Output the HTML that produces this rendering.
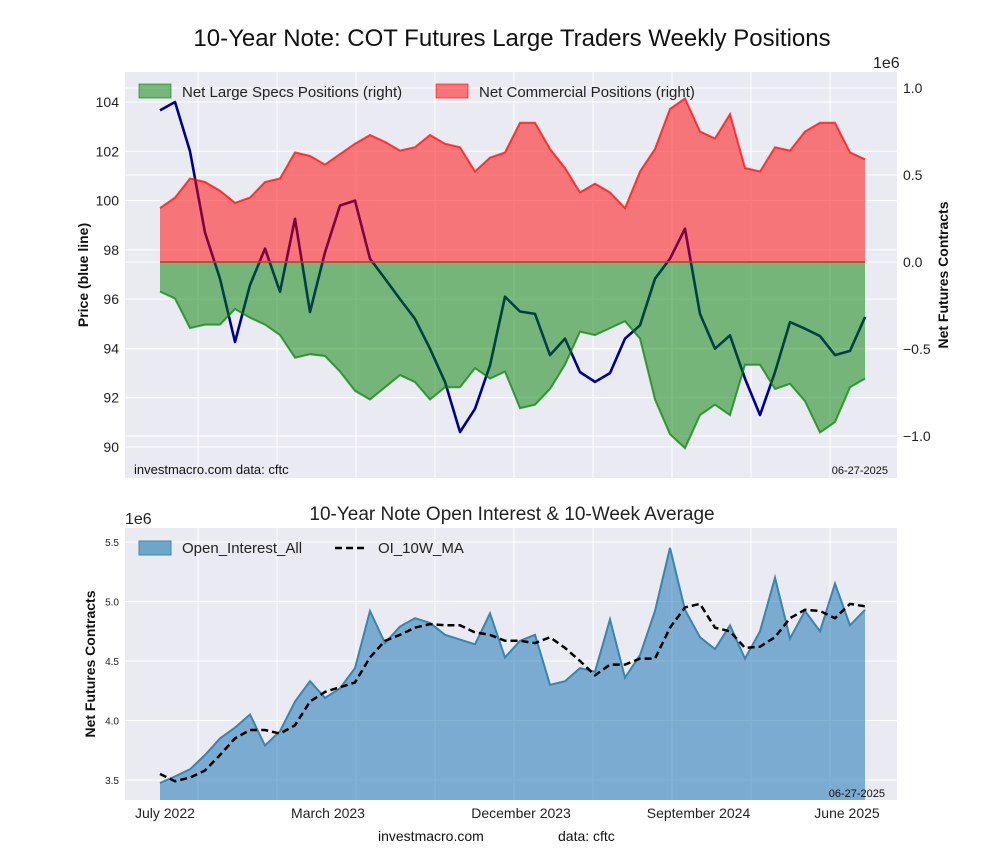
<!DOCTYPE html>
<html><head><meta charset="utf-8"><style>
body{margin:0;background:#fff;font-family:"Liberation Sans",Arial,sans-serif}
svg text{font-family:"Liberation Sans",Arial,sans-serif}
</style></head><body>
<svg id="chart" width="1000" height="860" xmlns="http://www.w3.org/2000/svg">
<rect width="1000" height="860" fill="#fff"/>
<text x="512" y="46" font-size="24" text-anchor="middle" fill="#111">10-Year Note: COT Futures Large Traders Weekly Positions</text>
<rect x="125" y="72" width="772" height="406" fill="#eaeaf2"/>
<rect x="125" y="528" width="772" height="272" fill="#eaeaf2"/>
<g id="grid"></g>
<g id="topMarks"></g>
<g id="botMarks"></g>
<g id="axes"></g>
<text x="873" y="68" font-size="16" fill="#222">1e6</text>
<text transform="translate(88,275) rotate(-90)" font-size="14" font-weight="bold" text-anchor="middle" fill="#111">Price (blue line)</text>
<text transform="translate(948,275) rotate(-90)" font-size="14" font-weight="bold" text-anchor="middle" fill="#111">Net Futures Contracts</text>
<text x="134" y="474" font-size="13" fill="#111">investmacro.com    data: cftc</text>
<text x="888" y="474" font-size="11" text-anchor="end" fill="#111">06-27-2025</text>
<g>
<rect x="139" y="84" width="32" height="14" fill="rgba(0,128,0,0.5)" stroke="rgba(0,128,0,0.6)"/>
<text x="182" y="97" font-size="15" fill="#222">Net Large Specs Positions (right)</text>
<rect x="436" y="84" width="32" height="14" fill="rgba(255,0,0,0.5)" stroke="rgba(255,0,0,0.6)"/>
<text x="479" y="97" font-size="15" fill="#222">Net Commercial Positions (right)</text>
</g>
<text x="512" y="520" font-size="19" text-anchor="middle" fill="#222">10-Year Note Open Interest &amp; 10-Week Average</text>
<text x="125" y="524" font-size="16" fill="#222">1e6</text>
<text transform="translate(95,664) rotate(-90)" font-size="14" font-weight="bold" text-anchor="middle" fill="#111">Net Futures Contracts</text>
<g>
<rect x="139" y="541" width="32" height="14" fill="#6fa5c6" stroke="#3f86b0"/>
<text x="182" y="553" font-size="15" fill="#222">Open_Interest_All</text>
<line x1="335" y1="548" x2="367" y2="548" stroke="#000" stroke-width="2.5" stroke-dasharray="7,4"/>
<text x="378" y="553" font-size="15" fill="#222">OI_10W_MA</text>
</g>
<text x="885" y="797" font-size="11" text-anchor="end" fill="#111">06-27-2025</text>
<text x="378" y="841" font-size="14" fill="#111">investmacro.com</text>
<text x="558" y="841" font-size="14" fill="#111">data: cftc</text>
</svg>
<script>
const commercial=[0.31,0.37,0.48,0.46,0.41,0.34,0.37,0.46,0.48,0.63,0.61,0.56,0.62,0.68,0.73,0.69,0.64,0.66,0.73,0.68,0.66,0.52,0.60,0.63,0.80,0.80,0.65,0.54,0.40,0.45,0.40,0.31,0.52,0.65,0.88,0.94,0.75,0.71,0.85,0.54,0.52,0.66,0.64,0.75,0.80,0.80,0.63,0.59];
const specs=[-0.17,-0.21,-0.38,-0.36,-0.36,-0.27,-0.32,-0.36,-0.42,-0.55,-0.53,-0.54,-0.63,-0.74,-0.79,-0.72,-0.65,-0.69,-0.79,-0.72,-0.72,-0.61,-0.67,-0.63,-0.84,-0.82,-0.73,-0.59,-0.40,-0.42,-0.38,-0.34,-0.44,-0.79,-0.99,-1.07,-0.88,-0.82,-0.88,-0.59,-0.59,-0.73,-0.70,-0.80,-0.98,-0.92,-0.72,-0.67];
const price=[103.66,104.0,102.0,98.7,96.83,94.26,96.57,98.05,96.3,99.26,95.48,97.9,99.8,100.0,97.64,96.83,96.0,95.2,93.99,92.64,90.61,91.55,93.31,96.1,95.5,95.4,93.73,94.4,93.04,92.64,93.0,94.4,94.94,96.83,97.64,98.86,95.4,93.99,94.53,92.77,91.3,93.04,95.07,94.8,94.5,93.73,93.9,95.27];
const openInterest=[3.475,3.53,3.59,3.71,3.85,3.94,4.05,3.79,3.91,4.16,4.33,4.19,4.27,4.44,4.92,4.65,4.79,4.86,4.82,4.72,4.68,4.64,4.9,4.53,4.67,4.72,4.30,4.33,4.44,4.41,4.85,4.36,4.55,4.92,5.45,4.93,4.70,4.60,4.8,4.52,4.75,5.2,4.69,4.92,4.75,5.15,4.8,4.93];
const oiMA=[3.55,3.49,3.52,3.58,3.71,3.85,3.92,3.92,3.89,3.96,4.16,4.24,4.28,4.32,4.53,4.67,4.72,4.78,4.81,4.80,4.80,4.74,4.72,4.67,4.67,4.65,4.70,4.61,4.50,4.38,4.47,4.47,4.52,4.52,4.78,4.95,4.98,4.78,4.75,4.61,4.62,4.70,4.86,4.93,4.92,4.86,4.98,4.96];
const xTickLabels=["July 2022","March 2023","December 2023","September 2024","June 2025"];
const xTickIdx=[0.33,11.2,24.07,35.9,45.8];
const priceTicks=[90,92,94,96,98,100,102,104];
const rightTicks=[-1.0,-0.5,0.0,0.5,1.0];
const rightTickLabels=["\u22121.0","\u22120.5","0.0","0.5","1.0"];
const oiTicks=[3.5,4.0,4.5,5.0,5.5];
const NS="http://www.w3.org/2000/svg";
const xS=i=>160+i*(705/(commercial.length-1));
const yP=v=>102+(104-v)*24.643;
const yR=v=>262-v*174;
const yO=v=>542+(5.5-v)*119;
function mk(tag,attrs,parent){const e=document.createElementNS(NS,tag);for(const k in attrs)e.setAttribute(k,attrs[k]);parent.appendChild(e);return e;}
const grid=document.getElementById('grid'),top_=document.getElementById('topMarks'),bot=document.getElementById('botMarks'),axes=document.getElementById('axes');
const vgrid=[198,277,356,435,514,593,672,751,830];
vgrid.forEach(x=>{
  let l=mk('line',{x1:x,x2:x,y1:72,y2:478,stroke:'#fff','stroke-width':1},grid);
  
  l=mk('line',{x1:x,x2:x,y1:528,y2:800,stroke:'#fff','stroke-width':1},grid);
  
});
priceTicks.forEach(v=>{
  const y=yP(v);
  let l=mk('line',{x1:125,x2:897,y1:y,y2:y,stroke:'#fff','stroke-width':1},grid);
  
  let t=mk('text',{x:119,y:y+5,'font-size':14,'text-anchor':'end',fill:'#222'},axes);t.textContent=v;
  
});
rightTicks.forEach((v,i)=>{
  const y=yR(v);
  let l=mk('line',{x1:125,x2:897,y1:y,y2:y,stroke:'#fff','stroke-width':1},grid);
  
  let t=mk('text',{x:903,y:y+5,'font-size':14,fill:'#222'},axes);t.textContent=rightTickLabels[i];
  
});
oiTicks.forEach(v=>{
  const y=yO(v);
  let l=mk('line',{x1:125,x2:897,y1:y,y2:y,stroke:'#fff','stroke-width':1},grid);
  
  let t=mk('text',{x:119,y:y+4,'font-size':10,'text-anchor':'end',fill:'#222'},axes);t.textContent=v.toFixed(1);
  
});
xTickLabels.forEach((s,i)=>{
  let t=mk('text',{x:xS(xTickIdx[i]),y:818,'font-size':14,'text-anchor':'middle',fill:'#222'},axes);t.textContent=s;
  
});
const pts=(arr,f)=>arr.map((v,i)=>xS(i).toFixed(1)+','+f(v).toFixed(1)).join(' ');
// price line (under fills)
let pl=mk('polyline',{points:pts(price,yP),fill:'none',stroke:'#00008b','stroke-width':2.6,'stroke-linejoin':'round'},top_);

const z=yR(0),x0=xS(0),xN=xS(commercial.length-1);
let cf=mk('polygon',{points:x0+','+z+' '+pts(commercial,yR)+' '+xN+','+z,fill:'rgba(255,0,0,0.5)',stroke:'none'},top_);

let sf=mk('polygon',{points:x0+','+z+' '+pts(specs,yR)+' '+xN+','+z,fill:'rgba(0,128,0,0.5)',stroke:'none'},top_);

let cl=mk('polyline',{points:pts(commercial,yR),fill:'none',stroke:'rgba(255,0,0,0.7)','stroke-width':2},top_);

let sl=mk('polyline',{points:pts(specs,yR),fill:'none',stroke:'rgba(0,128,0,0.7)','stroke-width':2},top_);

let zl=mk('line',{x1:x0,x2:xN,y1:z,y2:z,stroke:'rgba(190,60,40,0.8)','stroke-width':2},top_);

// bottom
let of=mk('polygon',{points:x0+',800 '+pts(openInterest,yO)+' '+xN+',800',fill:'rgba(31,119,180,0.55)',stroke:'none'},bot);

let ol=mk('polyline',{points:pts(openInterest,yO),fill:'none',stroke:'#3a84ad','stroke-width':2},bot);

let ml=mk('polyline',{points:pts(oiMA,yO),fill:'none',stroke:'#000','stroke-width':2.5,'stroke-dasharray':'7,4'},bot);

</script>
</body></html>
